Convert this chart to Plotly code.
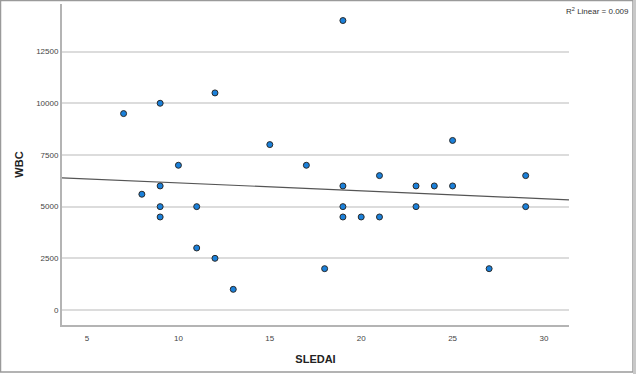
import numpy as np
import plotly.graph_objects as go

sledai = [7, 8, 9, 9, 9, 9, 10, 11, 11, 12, 12, 13, 15, 17, 18,
          19, 19, 19, 19, 20, 21, 21, 23, 23, 24, 25, 25, 27, 29, 29]
wbc = [9500, 5600, 10000, 6000, 5000, 4500, 7000, 5000, 3000, 10500, 2500, 1000, 8000, 7000, 2000,
       14000, 6000, 5000, 4500, 4500, 6500, 4500, 6000, 5000, 6000, 8200, 6000, 2000, 6500, 5000]
x_ticks = [5, 10, 15, 20, 25, 30]
y_ticks = [0, 2500, 5000, 7500, 10000, 12500]
y_tick_text = ["0", "2500", "5000", "7500", "10000", "12500"]
r2_label = "R<sup>2</sup> Linear = 0.009"

x_range = [3.63, 31.37]
y_range = [-725, 14800]

slope, intercept = np.polyfit(sledai, wbc, 1)
fit_x = np.array(x_range)
fit_y = slope * fit_x + intercept

W, H = 636, 374
ml, mr, mt, mb = 62, 67, 4, 49
pw, ph = W - ml - mr, H - mt - mb

fig = go.Figure()
fig.add_trace(go.Scatter(x=fit_x, y=fit_y, mode="lines",
                         line=dict(color="#555555", width=1.2), hoverinfo="skip"))
fig.add_trace(go.Scatter(x=sledai, y=wbc, mode="markers",
                         marker=dict(size=6, color="#1a80da",
                                     line=dict(color="#2a2a2a", width=1))))

def px_x(p):
    return (p - ml) / pw

def px_y(p):
    return (H - mb - p) / ph

fig.update_layout(
    width=W, height=H,
    margin=dict(l=ml, r=mr, t=mt, b=mb, autoexpand=False),
    paper_bgcolor="white", plot_bgcolor="white",
    showlegend=False,
    font=dict(family="Liberation Sans, Arial, sans-serif", color="#444444", size=8),
    xaxis=dict(range=x_range, tickvals=x_ticks, showgrid=False, zeroline=False, automargin=False,
               showline=True, linecolor="#b4b4b4", linewidth=2, ticks="", ticklabelstandoff=4,
               tickfont=dict(size=8, color="#444444"),
               title=dict(text="<b>SLEDAI</b>", font=dict(size=11, color="#222222"), standoff=14)),
    yaxis=dict(range=y_range, tickvals=y_ticks, ticktext=y_tick_text, showgrid=True,
               gridcolor="#dcdcdc", gridwidth=1.5, automargin=False,
               zeroline=False, showline=True, linecolor="#b4b4b4", linewidth=2, ticks="",
               tickfont=dict(size=8, color="#444444"),
               title=dict(text="<b>WBC</b>", font=dict(size=11, color="#222222"), standoff=10)),
    annotations=[dict(text=r2_label, xref="paper", yref="paper",
                      x=px_x(631), y=px_y(11), xanchor="right", yanchor="middle",
                      showarrow=False, font=dict(size=8, color="#333333"))],
    shapes=[dict(type="rect", xref="paper", yref="paper",
                 x0=px_x(0.5), x1=px_x(633), y0=px_y(372), y1=px_y(0.5),
                 line=dict(color="#9a9a9a", width=1.5), layer="above"),
            dict(type="line", xref="paper", yref="paper",
                 x0=px_x(634.5), x1=px_x(634.5), y0=px_y(374), y1=px_y(0),
                 line=dict(color="#c8c8c8", width=3))],
)

fig.write_html("out.html", config={"displayModeBar": False},
               post_script="document.body.style.margin='0';document.body.style.overflow='hidden';")
